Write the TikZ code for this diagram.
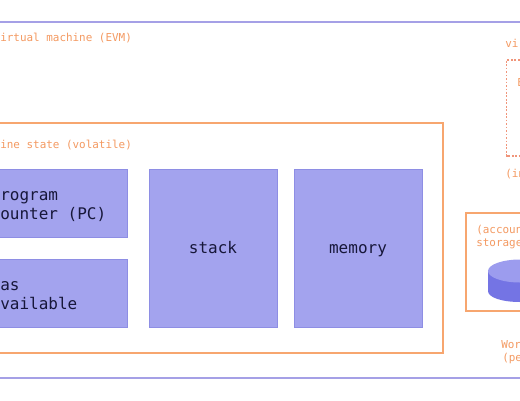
\documentclass[tikz,border=0pt]{standalone}
\usepackage{fontspec}
\setmonofont{DejaVu Sans Mono}
\definecolor{lav}{HTML}{A3A3EE}
\definecolor{lavedge}{HTML}{8E8EE4}
\definecolor{frame}{HTML}{A5A0E6}
\definecolor{org}{HTML}{F7A66F}
\definecolor{orgtxt}{HTML}{F49A62}
\definecolor{dots}{HTML}{F0957A}
\definecolor{ink}{HTML}{17173A}
\definecolor{cylside}{HTML}{7474E4}
\definecolor{cyltop}{HTML}{9C9CEE}
\tikzset{
  x=0.75pt,y=-0.75pt,
  small/.style={inner sep=0pt,anchor=base west,text=orgtxt,font=\ttfamily\fontsize{8.2}{12}\selectfont},
  cell/.style={draw=lavedge,fill=lav,line width=0.7pt},
  celltext/.style={inner sep=0pt,text=ink,font=\ttfamily\fontsize{12}{17}\selectfont,align=left},
  framebox/.style={draw=frame,line width=1pt},
  orgbox/.style={draw=org,line width=1.2pt},
}
\begin{document}
\begin{tikzpicture}
\useasboundingbox (0,0) rectangle (520,400);
\clip (0,0) rectangle (520,400);
\fill[white] (0,0) rectangle (520,400);
\draw[framebox] (-5,22) rectangle (530,378);
\draw[orgbox] (-5,123) rectangle (443,353);
\node[small] (evm) at (0,41) {irtual machine (EVM)};
\node[small] (ms) at (0,148) {ine state (volatile)};
\path[cell] (-5,169.5) rectangle (127,237.5);
\path[cell] (-5,259.5) rectangle (127,327.5);
\path[cell] (149,169.5) rectangle (277.5,327.5);
\path[cell] (294,169.5) rectangle (422.5,327.5);
\coordinate (sb) at (213,253);
\coordinate (mb) at (358,253);
\node[celltext,anchor=base] (stack) at (sb) {stack};
\node[celltext,anchor=base] (memory) at (mb) {memory};
\node[celltext,anchor=base west] (pc1) at (0,200) {rogram};
\node[celltext,anchor=base west] (pc2) at (0,219) {ounter (PC)};
\node[celltext,anchor=base west] (g1) at (0,290) {as};
\node[celltext,anchor=base west] (g2) at (0,309) {vailable};
\draw[orgbox] (530,213) -- (466,213) -- (466,311) -- (530,311);
\node[small] (ac1) at (476,233) {(accoun};
\node[small] (ac2) at (476,246) {storage};
\draw[dots,line width=1.1pt,dash pattern=on 1.3pt off 1.3pt] (530,60) -- (506.5,60) -- (506.5,156) -- (530,156);
\node[small] (vir) at (505,47) {vir};
\node[small] (in) at (505,177) {(in};
\node[small] (e) at (517,86) {E};
\node[small] (wor) at (501,348) {Wor};
\node[small] (pe) at (502,361) {(pe};
\fill[cylside] (488,271) -- (488,291) .. controls (488,297.5) and (502,302) .. (520,302) .. controls (538,302) and (552,297.5) .. (552,291) -- (552,271) -- cycle;
\fill[cyltop] (520,271) ellipse [x radius=32,y radius=11.5];
\end{tikzpicture}
\end{document}
